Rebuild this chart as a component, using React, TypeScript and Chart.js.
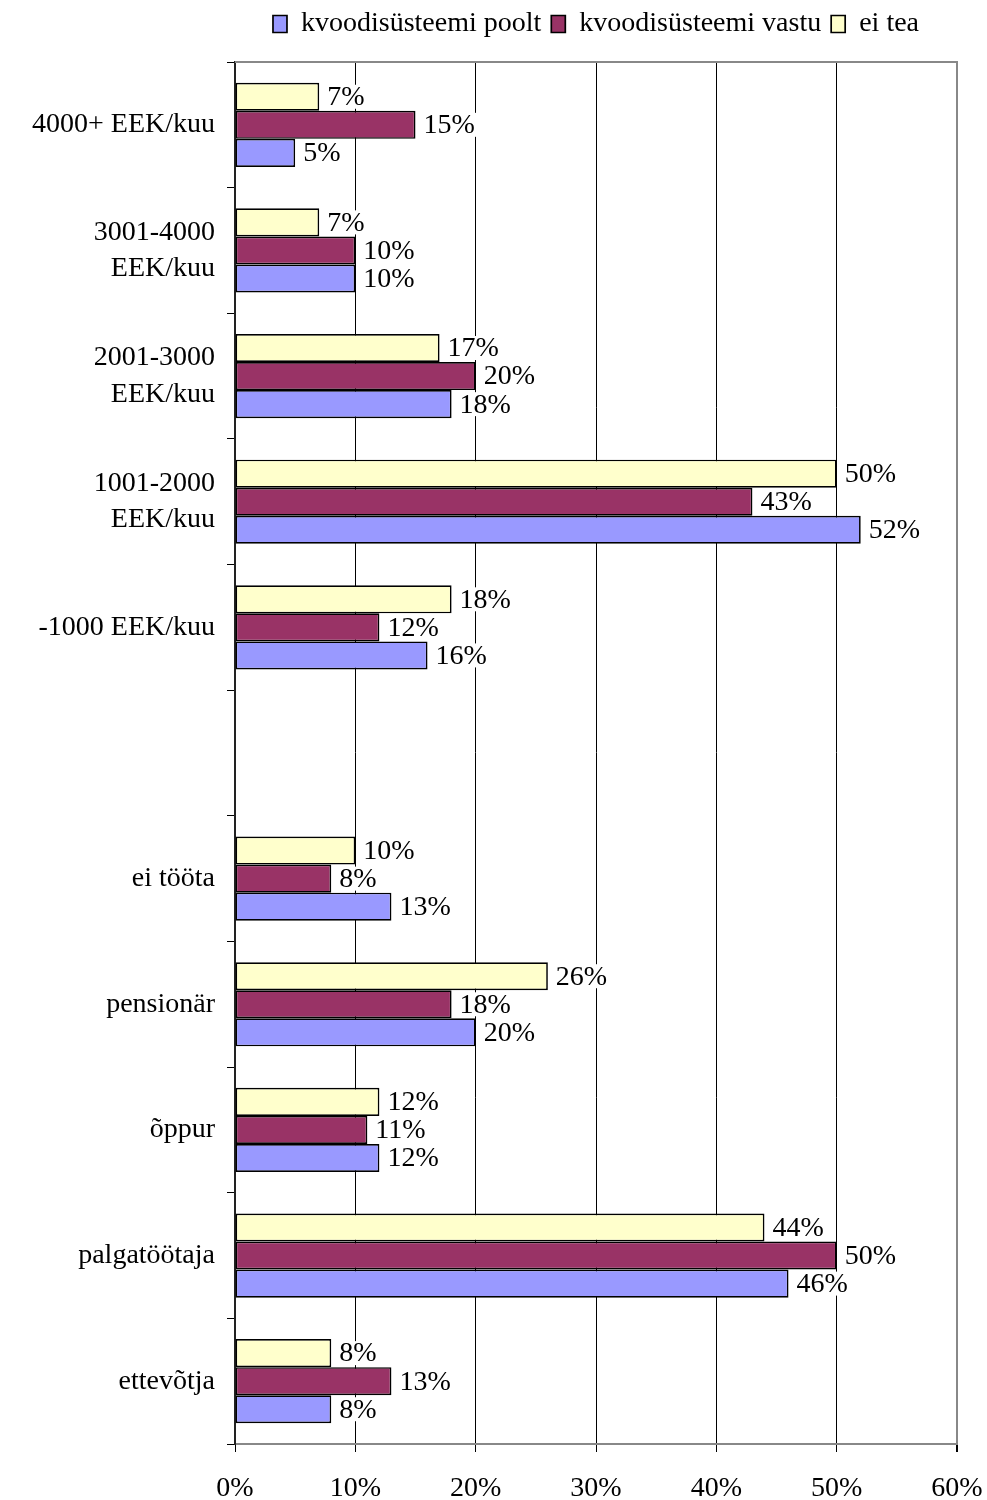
import React, { useEffect, useRef } from 'react';
import { Chart, registerables } from 'chart.js';

Chart.register(...registerables);

const categories: (string | string[])[] = [
  '4000+ EEK/kuu',
  ['3001-4000', 'EEK/kuu'],
  ['2001-3000', 'EEK/kuu'],
  ['1001-2000', 'EEK/kuu'],
  '-1000 EEK/kuu',
  '',
  'ei tööta',
  'pensionär',
  'õppur',
  'palgatöötaja',
  'ettevõtja',
];

const eiTea = [7, 7, 17, 50, 18, null, 10, 26, 12, 44, 8];
const vastu = [15, 10, 20, 43, 12, null, 8, 18, 11, 50, 13];
const poolt = [5, 10, 18, 52, 16, null, 13, 20, 12, 46, 8];

const seriesNames = ['ei tea', 'kvoodisüsteemi vastu', 'kvoodisüsteemi poolt'];
const seriesColors = ['#FFFFCC', '#993366', '#9999FF'];

const xMin = 0;
const xMax = 60;
const xStep = 10;

const FONT = "'Liberation Serif', 'Times New Roman', serif";

const legendGap = {
  id: 'legendGap',
  beforeInit(chart: any) {
    const legend = chart.legend;
    if (!legend) return;
    const orig = legend.fit;
    legend.fit = function () {
      orig.call(this);
      this.height += 14;
    };
  },
};

const frame = {
  id: 'frame',
  beforeDatasetsDraw(chart: any) {
    const { ctx, chartArea } = chart;
    ctx.save();
    ctx.strokeStyle = '#888888';
    ctx.lineWidth = 2;
    ctx.beginPath();
    ctx.moveTo(chartArea.left, chartArea.top);
    ctx.lineTo(chartArea.right, chartArea.top);
    ctx.lineTo(chartArea.right, chartArea.bottom);
    ctx.stroke();
    ctx.restore();
  },
};

const valueLabels = {
  id: 'valueLabels',
  afterDatasetsDraw(chart: any) {
    const { ctx } = chart;
    ctx.save();
    ctx.font = `28px ${FONT}`;
    ctx.textAlign = 'left';
    ctx.textBaseline = 'middle';
    chart.data.datasets.forEach((ds: any, di: number) => {
      const meta = chart.getDatasetMeta(di);
      meta.data.forEach((el: any, i: number) => {
        const v = ds.data[i];
        if (v === null || v === undefined) return;
        const text = `${v}%`;
        const w = ctx.measureText(text).width;
        const x = el.x + 6;
        const y = el.y;
        ctx.fillStyle = '#ffffff';
        ctx.fillRect(x, y - 12, w + 4, 24);
        ctx.fillStyle = '#000000';
        ctx.fillText(text, x + 2, y + 1);
      });
    });
    ctx.restore();
  },
};

export default function App() {
  const canvasRef = useRef<HTMLCanvasElement | null>(null);

  useEffect(() => {
    if (!canvasRef.current) return;
    Chart.defaults.font.family = FONT;
    const data = [eiTea, vastu, poolt];
    const chart = new Chart(canvasRef.current, {
      type: 'bar',
      data: {
        labels: categories,
        datasets: data.map((d, i) => ({
          label: seriesNames[i],
          data: d,
          backgroundColor: seriesColors[i],
          borderColor: '#000000',
          borderWidth: 1.7,
          borderSkipped: false,
          categoryPercentage: 0.67,
          barPercentage: 1.0,
        })),
      },
      options: {
        indexAxis: 'y',
        animation: false,
        responsive: false,
        layout: { padding: { top: 0, right: 30, bottom: 0, left: 0 } },
        plugins: {
          legend: {
            display: true,
            position: 'top',
            fullSize: false,
            reverse: true,
            labels: {
              color: '#000000',
              font: { size: 28, family: FONT, lineHeight: 1.0 },
              boxWidth: 14,
              boxHeight: 17,
              padding: 10,
            },
          },
          tooltip: { enabled: false },
        },
        scales: {
          x: {
            type: 'linear',
            min: xMin,
            max: xMax,
            ticks: {
              stepSize: xStep,
              callback: (v: any) => `${v}%`,
              color: '#000000',
              font: { size: 28, family: FONT },
              padding: 20,
              maxRotation: 0,
            },
            grid: {
              color: (c: any) => (c.tick && c.tick.value === xMax ? '#888888' : '#000000'),
              lineWidth: (c: any) => (c.tick && c.tick.value === xMax ? 2 : 1),
              drawTicks: true,
              tickLength: 8,
              tickColor: '#000000',
            },
            border: { display: true, color: '#888888', width: 2 },
            afterFit: (s: any) => {
              s.height = 56;
              s.paddingLeft = 0;
              s.paddingRight = 0;
            },
          },
          y: {
            type: 'category',
            offset: true,
            ticks: {
              color: '#000000',
              font: { size: 28, family: FONT, lineHeight: 1.3 },
              padding: 12,
              autoSkip: false,
            },
            grid: {
              display: true,
              offset: true,
              drawOnChartArea: false,
              drawTicks: true,
              tickLength: 8,
              color: '#000000',
              tickColor: '#000000',
            },
            border: { display: true, color: '#222222', width: 2 },
            afterFit: (s: any) => {
              s.width = 235;
              s.paddingTop = 0;
              s.paddingBottom = 0;
            },
          },
        },
      } as any,
      plugins: [legendGap, frame, valueLabels],
    });
    return () => chart.destroy();
  }, []);

  return (
    <div style={{ position: 'absolute', left: 0, top: 0, width: 987, height: 1500, background: '#fff' }}>
      <canvas ref={canvasRef} width={987} height={1500} style={{ display: 'block' }} />
    </div>
  );
}
